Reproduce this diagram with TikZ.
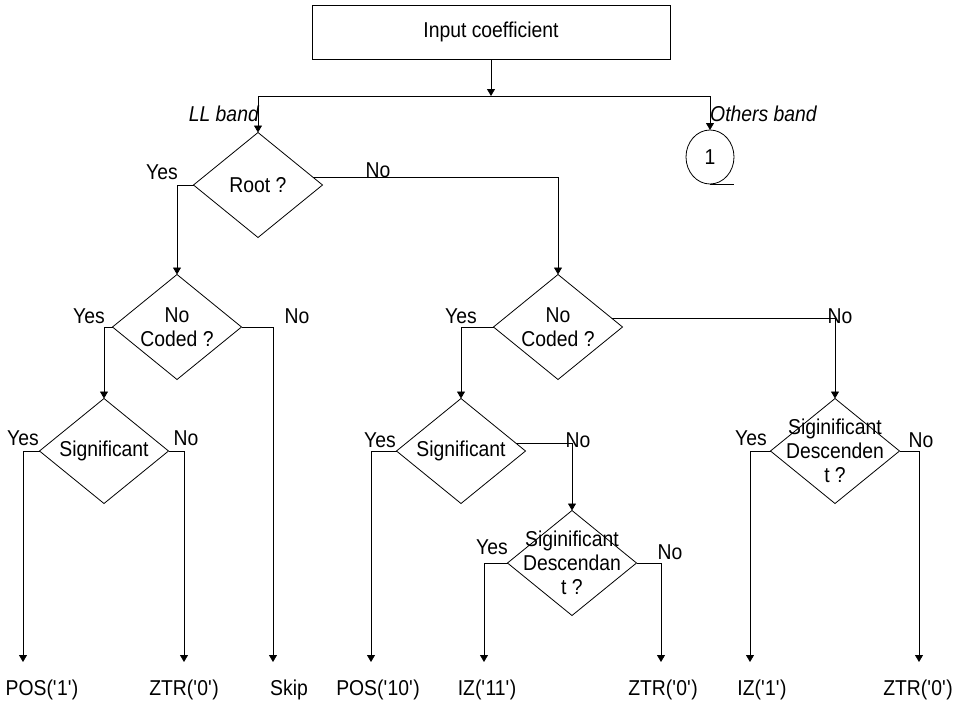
\documentclass[tikz,border=0pt]{standalone}
\usepackage{fontspec}
\setmainfont{Liberation Sans}[FakeStretch=0.9]
\usetikzlibrary{shapes.geometric,arrows.meta,calc}
\newcommand{\sq}{\textquotesingle}
\begin{document}
\begin{tikzpicture}[x=1pt,y=-1pt,
  every node/.style={font=\fontsize{21.5}{24}\selectfont},
  line/.style={line width=0.8pt},
  arr/.style={line,-{Triangle[width=8pt,length=7pt]}},
  dia/.style={diamond,draw,line,minimum width=129pt,minimum height=105pt,inner sep=0pt,outer sep=0pt},
  dtext/.style={align=center,inner sep=0pt},
  lbl/.style={inner sep=0pt},
  itlbl/.style={inner sep=0pt,font=\fontsize{21.5}{24}\selectfont\itshape},
]
\useasboundingbox (0,0) rectangle (953,707);

% top box and split
\node[draw,line,minimum width=358pt,minimum height=54pt,inner sep=0pt,outer sep=0pt] (box) at (491,32) {Input coefficient};
\coordinate (split) at (491,96);

% decision diamonds
\node[dia] (root) at (258,185) {};
\node[dtext] (roott) at (root) {Root ?};
\node[dia] (nc1) at (177,327) {};
\node[dtext] (nc1t) at (nc1) {No\\Coded ?};
\node[dia] (nc2) at (558,327) {};
\node[dtext] (nc2t) at (nc2) {No\\Coded ?};
\node[dia] (sig1) at (104,451) {};
\node[dtext] (sig1t) at (sig1) {Significant};
\node[dia] (sig2) at (461,451) {};
\node[dtext] (sig2t) at (sig2) {Significant};
\node[dia] (sd2) at (572,563) {};
\node[dtext] (sd2t) at (sd2) {Siginificant\\Descendan\\t ?};
\node[dia] (sd3) at (835,451) {};
\node[dtext] (sd3t) at (sd3) {Siginificant\\Descenden\\t ?};

% connector circle
\node[ellipse,draw,line,minimum width=48pt,minimum height=54pt,inner sep=0pt,outer sep=0pt] (c1) at (710,157) {1};
\coordinate (c1tail) at (734,184);

% arrow end points
\coordinate (e1) at (23,662);
\coordinate (e2) at (184,662);
\coordinate (e3) at (273,662);
\coordinate (e4) at (371,662);
\coordinate (e5) at (484,662);
\coordinate (e6) at (661,662);
\coordinate (e7) at (750,662);
\coordinate (e8) at (919,662);

% slightly raised starts of some "No" branches
\coordinate (rootno) at ($(root.east)!0.15!(root.north)$);
\coordinate (nc2no) at ($(nc2.east)!0.17!(nc2.north)$);
\coordinate (sig2no) at ($(sig2.east)!0.15!(sig2.north)$);

% connectors
\draw[arr] (box.south) -- (split);
\draw[arr] (split) -| (root.north);
\draw[arr] (split) -| (c1.north);
\draw[line] (c1.south) -- (c1tail);

\draw[arr] (root.west) -| (nc1.north);
\draw[arr] (rootno) -| (nc2.north);

\draw[arr] (nc1.west) -| (sig1.north);
\draw[arr] (nc1.east) -| (e3);
\draw[arr] (sig1.west) -| (e1);
\draw[arr] (sig1.east) -| (e2);

\draw[arr] (nc2.west) -| (sig2.north);
\draw[arr] (nc2no) -| (sd3.north);
\draw[arr] (sig2.west) -| (e4);
\draw[arr] (sig2no) -| (sd2.north);
\draw[arr] (sd2.west) -| (e5);
\draw[arr] (sd2.east) -| (e6);
\draw[arr] (sd3.west) -| (e7);
\draw[arr] (sd3.east) -| (e8);

% branch labels
\node[itlbl,anchor=east] (ll) at (259,114) {LL band};
\node[itlbl,anchor=west] (ob) at (710,114) {Others band};
\node[lbl] (ry) at (162,172) {Yes};
\node[lbl] (rn) at (378,170) {No};
\node[lbl] (n1y) at (89,316) {Yes};
\node[lbl] (n1n) at (297,316) {No};
\node[lbl] (s1y) at (23,438) {Yes};
\node[lbl] (s1n) at (186,438) {No};
\node[lbl] (n2y) at (461,316) {Yes};
\node[lbl] (n2n) at (840,316) {No};
\node[lbl] (s2y) at (380,440) {Yes};
\node[lbl] (s2n) at (578,440) {No};
\node[lbl] (d2y) at (492,547) {Yes};
\node[lbl] (d2n) at (670,552) {No};
\node[lbl] (d3y) at (751,438) {Yes};
\node[lbl] (d3n) at (921,440) {No};

% outputs
\node[lbl] (o1) at (42,690) {POS(\sq1\sq)};
\node[lbl] (o2) at (184,690) {ZTR(\sq0\sq)};
\node[lbl] (o3) at (289,690) {Skip};
\node[lbl] (o4) at (378,690) {POS(\sq10\sq)};
\node[lbl] (o5) at (487,690) {IZ(\sq11\sq)};
\node[lbl] (o6) at (663,690) {ZTR(\sq0\sq)};
\node[lbl] (o7) at (762,690) {IZ(\sq1\sq)};
\node[lbl] (o8) at (918,690) {ZTR(\sq0\sq)};
\end{tikzpicture}
\end{document}
